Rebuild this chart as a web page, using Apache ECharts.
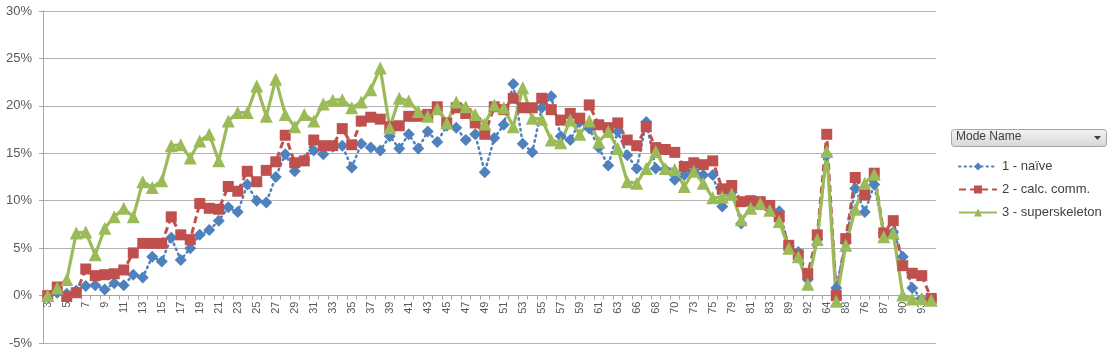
<!DOCTYPE html>
<html>
<head>
<meta charset="utf-8">
<script src="https://cdn.jsdelivr.net/npm/echarts@6/dist/echarts.min.js"></script>
<style>
  html, body { margin: 0; padding: 0; background: #fff; }
  #chart { width: 1113px; height: 353px; }
</style>
</head>
<body>
<div id="chart"></div>
<script>
// categories (question numbers), one label shown out of two
var categories = ['3','4','5','6','7','8','9','10','11','12','13','14','15','16','17','18','19','20',
  '21','22','23','24','25','26','27','28','29','30','31','32','33','34','35','36','37','38','39','40',
  '41','42','43','44','45','46','47','48','49','50','51','52','53','54','55','56','57','58','59','60',
  '61','62','63','65','66','67','68','69','70','72','73','74','75','78','79','80','81','82','83','85',
  '89','91','92','94','64','71','88','86','76','77','87','84','90','95','93','96'];

var seriesNames = ['1 - naïve', '2 - calc. comm.', '3 - superskeleton'];

// values in %
var naive = [0.0, 0.3, 0.2, 0.5, 1.0, 1.1, 0.65, 1.3, 1.1, 2.2, 1.9, 4.1, 3.6, 6.1, 3.75, 5.0, 6.4, 6.9, 7.9, 9.3,
  8.8, 11.7, 10.0, 9.8, 12.5, 14.9, 13.1, 14.3, 15.3, 14.9, 15.7,
  15.8, 13.5, 16.0, 15.6, 15.3, 16.8, 15.5, 17.0, 15.5, 17.3, 16.2, 17.9, 17.7, 16.4, 17.0, 13.0, 16.6, 18.0,
  22.3, 16.0, 15.1, 19.8, 21.0, 16.8, 16.4, 18.3, 17.6, 15.6, 13.7, 17.3, 14.8,
  13.4, 18.3, 13.4, 13.3, 12.2, 12.7, 13.1, 12.7, 12.7, 9.4, 10.9, 7.6, 9.7, 9.6, 9.2, 8.9, 5.2, 4.6, 1.7,
  5.9, 14.8, 0.8, 5.6, 11.3, 8.8, 11.7, 6.6, 6.7, 4.1, 0.8, -0.35, -0.5];

var calcComm = [0.0, 0.9, -0.1, 0.3, 2.8, 2.1, 2.2, 2.3, 2.7, 4.5, 5.5, 5.5, 5.5, 8.3, 6.4, 5.9, 9.7, 9.2, 9.1,
  11.5, 11.0, 13.1, 12.0, 13.2, 14.1, 16.9, 14.0, 14.2, 16.4, 15.8, 15.8,
  17.6, 15.9, 18.4, 18.8, 18.6, 17.8, 17.9, 18.9, 18.9, 19.1, 19.9, 18.2, 19.8, 19.2, 18.2, 17.0, 19.9, 19.6,
  20.8, 19.8, 19.8, 20.8, 19.6, 18.5, 19.2, 18.7, 20.1, 18.0, 17.7, 18.2, 16.4,
  15.8, 17.8, 15.6, 15.4, 15.1, 13.6, 14.0, 13.8, 14.2, 11.25, 11.6, 9.9, 10.0, 9.9, 9.5, 8.3, 5.3, 4.3, 2.3,
  6.4, 17.0, 0.0, 6.0, 12.45, 10.6, 12.9, 6.6, 7.9, 3.15, 2.35, 2.1, -0.3];

var superskeleton = [0.0, 0.8, 1.7, 6.6, 6.7, 4.3, 7.1, 8.3, 9.2, 8.3, 12.0, 11.4, 12.1, 15.8, 15.9, 14.5, 16.3,
  17.0, 14.2, 18.4, 19.3, 19.3, 22.1, 18.9, 22.8, 19.1, 17.8, 19.1, 18.4, 20.2, 20.6,
  20.65, 19.8, 20.4, 21.7, 24.0, 17.7, 20.8, 20.5, 19.4, 18.9, 19.7, 18.2, 20.4, 19.9, 19.1, 18.1, 20.1, 19.8,
  17.8, 21.9, 18.7, 18.6, 16.4, 16.1, 18.5, 17.0, 18.4, 16.2, 17.3, 15.5, 12.0,
  11.85, 13.4, 15.2, 13.4, 13.3, 11.5, 13.1, 11.85, 10.3, 10.4, 10.7, 8.0, 9.2, 9.7, 9.0, 7.8, 5.0, 4.1, 1.2,
  5.9, 15.2, -0.6, 5.3, 9.1, 11.85, 12.8, 6.2, 6.6, 0.05, -0.35, -0.3, -0.5];

var yTicks = { min: -5, max: 30, step: 5 };

var colors = ['#4F81BD', '#C0504D', '#9BBB59'];
var fontName = 'Liberation Sans';

var myChart = echarts.init(document.getElementById('chart'), null, { renderer: 'canvas' });

// plot is 332px high; category axis sits on the 0% line, one 5% step above the bottom
var plotHeight = 353 - 11 - 10;
var zeroOffset = -plotHeight * (0 - yTicks.min) / (yTicks.max - yTicks.min);

var option = {
    animation: false,
    color: colors,
    textStyle: { fontFamily: fontName },
    grid: {
        left: 43,
        right: 177,
        top: 11,
        bottom: 10,
        containLabel: false,
        outerBoundsMode: 'none'
    },
    legend: {
        orient: 'vertical',
        left: 953,
        top: 155,
        itemWidth: 38,
        itemHeight: 10,
        itemGap: 10,
        data: seriesNames,
        textStyle: { fontFamily: fontName, fontSize: 13, color: '#404040' }
    },
    graphic: [
        {
            type: 'rect',
            left: 951,
            top: 129,
            shape: { width: 155, height: 17, r: 3 },
            style: {
                fill: new echarts.graphic.LinearGradient(0, 0, 0, 1, [
                    { offset: 0, color: '#F4F4F4' },
                    { offset: 1, color: '#D6D6D6' }
                ]),
                stroke: '#A6A6A6',
                lineWidth: 1
            }
        },
        {
            type: 'text',
            left: 956,
            top: 131,
            style: { text: 'Mode Name', fontFamily: fontName, fontSize: 12, fill: '#404040' }
        },
        {
            type: 'polygon',
            shape: { points: [[1094, 136], [1101, 136], [1097.5, 140]] },
            style: { fill: '#404040' }
        }
    ],
    xAxis: {
        type: 'category',
        data: categories,
        boundaryGap: true,
        offset: zeroOffset,
        axisLine: { onZero: false, lineStyle: { color: '#A6A6A6', width: 1 } },
        axisTick: { show: true, interval: 0, length: 4, lineStyle: { color: '#A6A6A6' } },
        axisLabel: {
            interval: 1,
            rotate: 90,
            fontSize: 11,
            color: '#595959',
            margin: 6,
            fontFamily: fontName
        },
        splitLine: { show: false }
    },
    yAxis: {
        type: 'value',
        min: yTicks.min,
        max: yTicks.max,
        interval: yTicks.step,
        axisLine: { show: true, lineStyle: { color: '#A6A6A6' } },
        axisTick: { show: true, length: 4, lineStyle: { color: '#A6A6A6' } },
        axisLabel: {
            formatter: '{value}%',
            fontSize: 13,
            color: '#595959',
            margin: 11,
            fontFamily: fontName
        },
        splitLine: { show: true, lineStyle: { color: '#B3B3B3', width: 1 } }
    },
    series: [
        {
            name: seriesNames[0],
            type: 'line',
            data: naive,
            symbol: 'diamond',
            symbolSize: 12,
            showAllSymbol: true,
            lineStyle: { width: 2.5, type: [1.5, 4], cap: 'round', color: colors[0] },
            itemStyle: { color: colors[0] }
        },
        {
            name: seriesNames[1],
            type: 'line',
            data: calcComm,
            symbol: 'rect',
            symbolSize: 11,
            showAllSymbol: true,
            lineStyle: { width: 3, type: [7, 4], color: colors[1] },
            itemStyle: { color: colors[1] }
        },
        {
            name: seriesNames[2],
            type: 'line',
            data: superskeleton,
            symbol: 'triangle',
            symbolSize: 13,
            showAllSymbol: true,
            lineStyle: { width: 3.2, type: 'solid', color: colors[2] },
            itemStyle: { color: colors[2] }
        }
    ]
};

myChart.setOption(option);
window.onresize = myChart.resize;
</script>
</body>
</html>
